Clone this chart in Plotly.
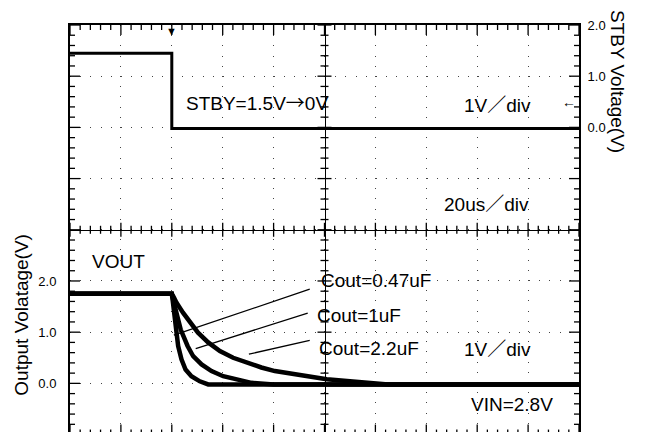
"""Scope capture: STBY falling edge and VOUT discharge for three output caps."""

import plotly.graph_objects as go

# time in us (20us/div, trigger at 0)
stby_t = [-40, 0, 0, 160]
stby_v = [1.45, 1.45, -0.02, -0.02]

cout_labels = ["Cout=0.47uF", "Cout=1uF", "Cout=2.2uF"]

vout_047_t = [-40, 0, 0.4, 0.9, 1.6, 2.5, 3.8, 5.4, 7.7, 11.0, 14.3, 160]
vout_047_v = [1.75, 1.75, 1.60, 1.38, 1.05, 0.73, 0.47, 0.27, 0.14, 0.04, -0.02, -0.02]

vout_1_t = [-40, 0, 0.8, 1.8, 3.5, 6.2, 8.4, 11.7, 15.6, 20.2, 24.8, 31.3, 40, 160]
vout_1_v = [1.75, 1.75, 1.58, 1.38, 1.05, 0.73, 0.53, 0.37, 0.24, 0.14, 0.08, 0.01, -0.02, -0.02]

vout_22_t = [-40, 0, 0.8, 1.8, 4.4, 7.1, 10.3, 14.3, 18.9, 24.1, 29.3, 35.2, 40.5, 47.5, 54, 60.9, 70, 85, 160]
vout_22_v = [1.75, 1.75, 1.68, 1.58, 1.38, 1.19, 0.99, 0.80, 0.63, 0.50, 0.40, 0.31, 0.24, 0.18, 0.13, 0.08, 0.04, -0.02, -0.02]

vout_ticks = [0, 1, 2]
stby_ticks = [0, 1, 2]

FONT = "Liberation Sans, Arial, Noto Sans CJK JP, sans-serif"
X_RANGE = [-40, 160]
VOUT_RANGE = [-0.95, 7]
STBY_RANGE = [VOUT_RANGE[0] - 5, VOUT_RANGE[1] - 5]
center_y = (3 - VOUT_RANGE[0]) / (VOUT_RANGE[1] - VOUT_RANGE[0])

fig = go.Figure()

fig.add_trace(go.Scatter(x=stby_t, y=stby_v, mode="lines", yaxis="y2",
                         line=dict(color="black", width=3), showlegend=False))
for t, v in [(vout_047_t, vout_047_v), (vout_1_t, vout_1_v), (vout_22_t, vout_22_v)]:
    fig.add_trace(go.Scatter(x=t, y=v, mode="lines", line=dict(color="black", width=4.5),
                             showlegend=False))

# centre lines of the graticule
fig.add_trace(go.Scatter(x=[], y=[], xaxis="x2", yaxis="y", showlegend=False))
fig.add_trace(go.Scatter(x=[], y=[], xaxis="x", yaxis="y3", showlegend=False))

dots = "1px,9.2px"
plain = dict(ticks="", showgrid=False, zeroline=False, automargin=False,
             showline=True, linecolor="black")

# page has an 8px body margin, so the figure is 8px smaller than the window
fig.update_layout(
    width=645, height=424,
    margin=dict(l=62, r=74, t=17, b=0, autoexpand=False),
    paper_bgcolor="white", plot_bgcolor="white",
    font=dict(family=FONT, color="black"),
    xaxis=dict(range=X_RANGE, side="top", dtick=20, tick0=0, ticks="", showticklabels=False,
               showgrid=True, gridcolor="#444", griddash=dots, gridwidth=1.3, zeroline=False,
               showline=True, linecolor="black", linewidth=2, automargin=False),
    xaxis2=dict(range=X_RANGE, overlaying="x", anchor="free", position=center_y,
                showticklabels=False, linewidth=1.3, **plain),
    yaxis=dict(range=VOUT_RANGE, tickmode="array", tickvals=list(range(-1, 8)),
               ticktext=["" if v not in vout_ticks else f"{v:.1f}" for v in range(-1, 8)],
               ticks="", ticklabelstandoff=9, tickfont=dict(size=13),
               showgrid=True, gridcolor="#444", griddash=dots, gridwidth=1.3, zeroline=False,
               showline=True, linecolor="black", linewidth=2, automargin=False),
    yaxis2=dict(range=STBY_RANGE, overlaying="y", side="right", anchor="x",
                tickmode="array", tickvals=list(range(-6, 3)),
                ticktext=["" if v not in stby_ticks else f"{v:.1f}" for v in range(-6, 3)],
                ticklabelstandoff=4, tickfont=dict(size=13), linewidth=2, **plain),
    yaxis3=dict(range=VOUT_RANGE, overlaying="y", anchor="free", position=0.5,
                showticklabels=False, linewidth=1.3, **plain),
)

# graticule ticks as pixel-sized shapes (axis ticks don't come out in black here)
x_steps = [-40 + 4 * i for i in range(51)]
y_steps = [round(-1 + 0.2 * i, 1) for i in range(41)]
tick_line = dict(color="black", width=1.3)

for t in x_steps:
    major = t % 20 == 0
    border = 10 if major else 5
    cross = 7 if major else 4
    fig.add_shape(type="line", xref="x", yref="y", ysizemode="pixel", yanchor=VOUT_RANGE[1],
                  x0=t, x1=t, y0=0, y1=-border, line=tick_line)
    fig.add_shape(type="line", xref="x", yref="y", ysizemode="pixel", yanchor=-1,
                  x0=t, x1=t, y0=0, y1=border, line=tick_line)
    fig.add_shape(type="line", xref="x", yref="y", ysizemode="pixel", yanchor=3,
                  x0=t, x1=t, y0=-cross, y1=cross, line=tick_line)

for v in y_steps:
    major = abs(v - round(v)) < 1e-6
    border = 10 if major else 5
    cross = 7 if major else 4
    fig.add_shape(type="line", xref="x", yref="y", xsizemode="pixel", xanchor=X_RANGE[0],
                  y0=v, y1=v, x0=0, x1=border, line=tick_line)
    fig.add_shape(type="line", xref="x", yref="y", xsizemode="pixel", xanchor=X_RANGE[1],
                  y0=v, y1=v, x0=0, x1=-border, line=tick_line)
    fig.add_shape(type="line", xref="x", yref="y", xsizemode="pixel", xanchor=60,
                  y0=v, y1=v, x0=-cross, x1=cross, line=tick_line)

# pointer lines from each curve to its label
pointers = [((0.8, 0.94), (54.2, 1.84)), ((9.4, 0.68), (53.4, 1.37)), ((30.3, 0.57), (54.2, 0.84))]
for (x0, y0), (x1, y1) in pointers:
    fig.add_shape(type="line", xref="x", yref="y", x0=x0, y0=y0, x1=x1, y1=y1,
                  line=dict(color="black", width=1.3))


def note(text, x, y, yref="y", size=19):
    fig.add_annotation(text=text, x=x, y=y, xref="x", yref=yref, xanchor="left",
                       yanchor="middle", showarrow=False, font=dict(size=size, color="black"))


arrow = "<span style=\"font-family:'Noto Sans CJK JP'\">→</span>"
note(f"STBY=1.5V{arrow}0V", 4.7, 0.5, yref="y2")
note("1V／div", 114, 0.42, yref="y2")
note("20us／div", 106, -1.5, yref="y2")
note("VOUT", -32.2, 2.38)
note(cout_labels[0], 57.8, 2.0)
note(cout_labels[1], 56.2, 1.33)
note(cout_labels[2], 57.0, 0.69)
note("1V／div", 114, 0.66)
note("VIN=2.8V", 116.7, -0.41)

# trigger position marker and trigger level marker
fig.add_annotation(text="▼", x=0, y=1, xref="x", yref="paper", yanchor="top", showarrow=False,
                   yshift=2, font=dict(size=11, color="black"))
fig.add_annotation(text="←", x=160, y=0.5, xref="x", yref="y2", xanchor="right", xshift=-1,
                   showarrow=False, font=dict(size=14, color="black"))

fig.add_annotation(text="Output Volatage(V)", textangle=-90, x=-0.12, y=1.35, xref="paper",
                   yref="y", showarrow=False, font=dict(size=19, color="black"))
fig.add_annotation(text="STBY Voltage(V)", textangle=90, x=1.1, y=0.9, xref="paper",
                   yref="y2", showarrow=False, font=dict(size=19, color="black"))

fig.write_html("out.html")
